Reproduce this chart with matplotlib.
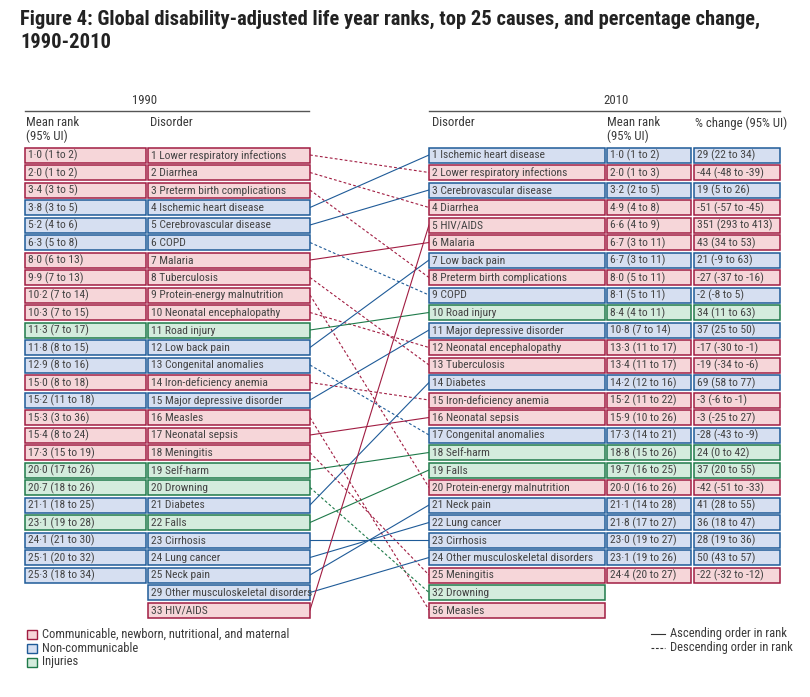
import matplotlib.pyplot as plt
from matplotlib.patches import Rectangle

plt.rcParams['font.family'] = ['Roboto Condensed', 'Liberation Sans Narrow', 'Roboto',
                               'DejaVu Sans']

# categories: C = communicable etc, N = non-communicable, I = injuries
fill = {'C': '#f6d6d9', 'N': '#d6dff1', 'I': '#d4ecdd'}
edge = {'C': '#a11d42', 'N': '#1f5b98', 'I': '#1f7a4a'}
txt_col = '#444444'

# 1990 table
ranks90 = [1, 2, 3, 4, 5, 6, 7, 8, 9, 10, 11, 12, 13, 14, 15, 16, 17, 18, 19, 20,
           21, 22, 23, 24, 25, 29, 33]
names90 = ['Lower respiratory infections', 'Diarrhea', 'Preterm birth complications',
           'Ischemic heart disease', 'Cerebrovascular disease', 'COPD', 'Malaria',
           'Tuberculosis', 'Protein-energy malnutrition', 'Neonatal encephalopathy',
           'Road injury', 'Low back pain', 'Congenital anomalies', 'Iron-deficiency anemia',
           'Major depressive disorder', 'Measles', 'Neonatal sepsis', 'Meningitis',
           'Self-harm', 'Drowning', 'Diabetes', 'Falls', 'Cirrhosis', 'Lung cancer',
           'Neck pain', 'Other musculoskeletal disorders', 'HIV/AIDS']
cats90 = ['C', 'C', 'C', 'N', 'N', 'N', 'C', 'C', 'C', 'C', 'I', 'N', 'N', 'C', 'N',
          'C', 'C', 'C', 'I', 'I', 'N', 'I', 'N', 'N', 'N', 'N', 'C']
mean90 = ['1·0 (1 to 2)', '2·0 (1 to 2)', '3·4 (3 to 5)', '3·8 (3 to 5)', '5·2 (4 to 6)',
          '6·3 (5 to 8)', '8·0 (6 to 13)', '9·9 (7 to 13)', '10·2 (7 to 14)',
          '10·3 (7 to 15)', '11·3 (7 to 17)', '11·8 (8 to 15)', '12·9 (8 to 16)',
          '15·0 (8 to 18)', '15·2 (11 to 18)', '15·3 (3 to 36)', '15·4 (8 to 24)',
          '17·3 (15 to 19)', '20·0 (17 to 26)', '20·7 (18 to 26)', '21·1 (18 to 25)',
          '23·1 (19 to 28)', '24·1 (21 to 30)', '25·1 (20 to 32)', '25·3 (18 to 34)']

# 2010 table
ranks10 = [1, 2, 3, 4, 5, 6, 7, 8, 9, 10, 11, 12, 13, 14, 15, 16, 17, 18, 19, 20,
           21, 22, 23, 24, 25, 32, 56]
names10 = ['Ischemic heart disease', 'Lower respiratory infections', 'Cerebrovascular disease',
           'Diarrhea', 'HIV/AIDS', 'Malaria', 'Low back pain', 'Preterm birth complications',
           'COPD', 'Road injury', 'Major depressive disorder', 'Neonatal encephalopathy',
           'Tuberculosis', 'Diabetes', 'Iron-deficiency anemia', 'Neonatal sepsis',
           'Congenital anomalies', 'Self-harm', 'Falls', 'Protein-energy malnutrition',
           'Neck pain', 'Lung cancer', 'Cirrhosis', 'Other musculoskeletal disorders',
           'Meningitis', 'Drowning', 'Measles']
cats10 = ['N', 'C', 'N', 'C', 'C', 'C', 'N', 'C', 'N', 'I', 'N', 'C', 'C', 'N', 'C',
          'C', 'N', 'I', 'I', 'C', 'N', 'N', 'N', 'N', 'C', 'I', 'C']
mean10 = ['1·0 (1 to 2)', '2·0 (1 to 3)', '3·2 (2 to 5)', '4·9 (4 to 8)', '6·6 (4 to 9)',
          '6·7 (3 to 11)', '6·7 (3 to 11)', '8·0 (5 to 11)', '8·1 (5 to 11)', '8·4 (4 to 11)',
          '10·8 (7 to 14)', '13·3 (11 to 17)', '13·4 (11 to 17)', '14·2 (12 to 16)',
          '15·2 (11 to 22)', '15·9 (10 to 26)', '17·3 (14 to 21)', '18·8 (15 to 26)',
          '19·7 (16 to 25)', '20·0 (16 to 26)', '21·1 (14 to 28)', '21·8 (17 to 27)',
          '23·0 (19 to 27)', '23·1 (19 to 26)', '24·4 (20 to 27)']
change10 = ['29 (22 to 34)', '-44 (-48 to -39)', '19 (5 to 26)', '-51 (-57 to -45)',
            '351 (293 to 413)', '43 (34 to 53)', '21 (-9 to 63)', '-27 (-37 to -16)',
            '-2 (-8 to 5)', '34 (11 to 63)', '37 (25 to 50)', '-17 (-30 to -1)',
            '-19 (-34 to -6)', '69 (58 to 77)', '-3 (-6 to -1)', '-3 (-25 to 27)',
            '-28 (-43 to -9)', '24 (0 to 42)', '37 (20 to 55)', '-42 (-51 to -33)',
            '41 (28 to 55)', '36 (18 to 47)', '28 (19 to 36)', '50 (43 to 57)',
            '-22 (-32 to -12)']

fig = plt.figure(figsize=(8.10, 6.97), dpi=100)
ax = fig.add_axes([0, 0, 1, 1])
ax.set_xlim(0, 810)
ax.set_ylim(697, 0)
ax.axis('off')

y0 = 155.0
step = 17.5
bh = 15.0
fs = 8.25


def row_y(i):
    return y0 + i * step


def cell(x, w, i, cat, label):
    y = row_y(i)
    ax.add_patch(Rectangle((x, y - bh / 2), w, bh, facecolor=fill[cat],
                           edgecolor=edge[cat], lw=1.1, zorder=2))
    ax.text(x + 3, y + 0.5, label, fontsize=fs, color=txt_col, va='center',
            ha='left', zorder=3)


# left table
for i, (r, n, c) in enumerate(zip(ranks90, names90, cats90)):
    if i < len(mean90):
        cell(25, 121, i, c, mean90[i])
    cell(148, 162, i, c, f'{r} {n}')

# right table
for i, (r, n, c) in enumerate(zip(ranks10, names10, cats10)):
    cell(429, 176, i, c, f'{r} {n}')
    if i < len(mean10):
        cell(607, 84, i, c, mean10[i])
        cell(694, 86, i, c, change10[i])

# connecting lines (solid = rank went up or stayed, dashed = went down)
for i, (r, n, c) in enumerate(zip(ranks90, names90, cats90)):
    j = names10.index(n)
    ls = '-' if ranks10[j] <= r else (0, (2.5, 2))
    ax.plot([310, 429], [row_y(i), row_y(j)], color=edge[c], lw=0.8, ls=ls, zorder=1)

# headers
hfs = 9.2
hcol = '#3a3a3a'
ax.text(145, 101, '1990', fontsize=hfs, color=hcol, ha='center', va='center')
ax.plot([25, 309], [111, 111], color='#555555', lw=1.0)
ax.text(26, 123, 'Mean rank', fontsize=hfs, color=hcol, ha='left', va='center')
ax.text(26, 136, '(95% UI)', fontsize=hfs, color=hcol, ha='left', va='center')
ax.text(150, 123, 'Disorder', fontsize=hfs, color=hcol, ha='left', va='center')

ax.text(616, 101, '2010', fontsize=hfs, color=hcol, ha='center', va='center')
ax.plot([429, 780], [111, 111], color='#555555', lw=1.0)
ax.text(432, 123, 'Disorder', fontsize=hfs, color=hcol, ha='left', va='center')
ax.text(607, 123, 'Mean rank', fontsize=hfs, color=hcol, ha='left', va='center')
ax.text(607, 136, '(95% UI)', fontsize=hfs, color=hcol, ha='left', va='center')
ax.text(695, 123, '% change (95% UI)', fontsize=hfs, color=hcol, ha='left', va='center')

# title
tfs = 14.8
ax.text(20, 19, 'Figure 4: Global disability-adjusted life year ranks, top 25 causes, '
        'and percentage change,', fontsize=tfs, fontweight='bold', color='#222222',
        ha='left', va='center')
ax.text(20, 43, '1990-2010', fontsize=tfs, fontweight='bold', color='#222222',
        ha='left', va='center')

# legend
lfs = 9.0
leg_labels = ['Communicable, newborn, nutritional, and maternal', 'Non-communicable',
              'Injuries']
for k, (c, lab) in enumerate(zip(['C', 'N', 'I'], leg_labels)):
    yy = 634 + k * 14
    ax.add_patch(Rectangle((27, yy - 4.5), 10, 9, facecolor=fill[c], edgecolor=edge[c],
                           lw=1.0))
    ax.text(42, yy, lab, fontsize=lfs, color=hcol, ha='left', va='center')

ax.plot([651, 665], [634, 634], color='#333333', lw=0.8)
ax.text(670, 634, 'Ascending order in rank', fontsize=lfs, color=hcol, ha='left',
        va='center')
ax.plot([651, 665], [648, 648], color='#333333', lw=0.8, ls=(0, (2.5, 1.5)))
ax.text(670, 648, 'Descending order in rank', fontsize=lfs, color=hcol, ha='left',
        va='center')

fig.savefig('out.png', dpi=100)
